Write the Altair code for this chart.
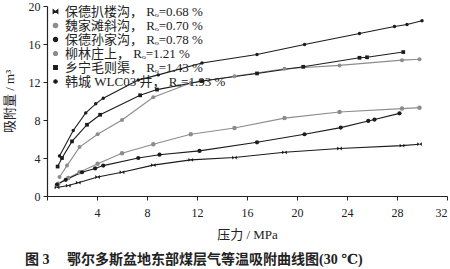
import altair as alt
import pandas as pd

# ---- data ----
names = [
    "保德扒楼沟，  Rₒ=0.68 %",
    "魏家滩斜沟，  Rₒ=0.70 %",
    "保德孙家沟，  Rₒ=0.78 %",
    "柳林庄上，  Rₒ=1.21 %",
    "乡宁毛则渠，  Rₒ=1.43 %",
    "韩城 WLC03 井，  Rₒ=1.93 %",
]

s1_x = [0.8, 1.7, 2.5, 4.05, 6.0, 8.5, 11.5, 15.0, 19.0, 23.4, 28.4, 29.8]
s1_y = [0.9, 1.1, 1.4, 2.0, 2.5, 3.25, 3.8, 4.05, 4.6, 5.0, 5.3, 5.45]

s2_x = [0.9, 1.7, 2.6, 4.05, 6.0, 8.5, 11.5, 15.0, 19.0, 23.4, 28.4, 29.8]
s2_y = [1.3, 1.9, 2.5, 3.4, 4.5, 5.45, 6.5, 7.15, 8.2, 8.85, 9.2, 9.3]

s3_x = [0.8, 1.5, 2.8, 3.85, 4.5, 7.3, 9.0, 12.2, 16.8, 20.6, 23.5, 25.7, 26.2, 28.2]
s3_y = [1.2, 1.7, 2.5, 2.9, 3.2, 4.0, 4.35, 4.75, 5.65, 6.5, 7.2, 7.9, 8.05, 8.7]

s4_x = [1.0, 1.6, 2.6, 4.05, 6.0, 8.5, 11.5, 15.0, 19.0, 23.4, 28.4, 29.8]
s4_y = [2.0, 3.2, 5.15, 6.5, 8.0, 10.4, 11.9, 12.6, 13.4, 13.75, 14.3, 14.4]

s5_x = [0.85, 1.2, 2.0, 3.2, 4.25, 7.45, 8.8, 12.4, 16.8, 20.5, 25.0, 25.6, 28.5]
s5_y = [3.1, 4.0, 5.75, 7.5, 8.55, 10.6, 11.2, 12.1, 12.9, 13.6, 14.55, 14.6, 15.15]

s6_x = [1.0, 2.1, 3.1, 3.9, 4.5, 7.3, 8.9, 12.4, 16.8, 20.6, 25.0, 27.8, 28.8, 30.0]
s6_y = [4.2, 6.9, 8.75, 9.7, 10.3, 12.2, 12.75, 14.0, 14.9, 15.95, 17.1, 17.85, 18.05, 18.45]

x_ticks = [0, 4, 8, 12, 16, 20, 24, 28, 32]
y_ticks = [0, 4, 8, 12, 16, 20]

# ---- styling ----
BLACK = "#1c1c1c"
GRAY = "#8c8c8c"
colors = [BLACK, GRAY, BLACK, GRAY, BLACK, BLACK]
bowtie = "M-1,-0.8L1,0.8L1,-0.8L-1,0.8Z"
shapes = [bowtie, "circle", "circle", "circle", "square", "circle"]
sizes = [22, 12, 16, 12, 22, 16]
FONT = "Liberation Serif, DejaVu Serif, Noto Sans CJK SC"

rows = []
for name, xs, ys in zip(names, [s1_x, s2_x, s3_x, s4_x, s5_x, s6_x],
                        [s1_y, s2_y, s3_y, s4_y, s5_y, s6_y]):
    for xv, yv in zip(xs, ys):
        rows.append({"series": name, "p": xv, "v": yv})
df = pd.DataFrame(rows)

xenc = alt.X("p:Q", scale=alt.Scale(domain=[0, 32], nice=False, zero=True),
             axis=alt.Axis(values=x_ticks, tickCount=len(x_ticks), title="压力 / MPa", grid=False,
                           labelExpr="datum.value == 0 ? '' : datum.label",
                           labelOverlap=False,
                           tickSize=4, labelPadding=7, titlePadding=10))
yenc = alt.Y("v:Q", scale=alt.Scale(domain=[0, 20], nice=False, zero=True),
             axis=alt.Axis(values=y_ticks, tickCount=len(y_ticks), title="吸附量 / m³", grid=False,
                           labelOverlap=False, labelBound=False,
                           tickSize=4, labelPadding=3, titlePadding=12))

legend_symbol = "M-1,0H1M-0.16,-0.16H0.16V0.16H-0.16Z"

lines = alt.Chart(df).mark_line(strokeWidth=1.1).encode(
    x=xenc,
    y=yenc,
    color=alt.Color("series:N", sort=names,
                    scale=alt.Scale(domain=names, range=colors),
                    legend=alt.Legend(
                        title=None, orient="none", legendX=2, legendY=-1,
                        symbolType=legend_symbol, symbolSize=190,
                        symbolStrokeWidth=1.1, symbolFillColor="#333",
                        labelFontSize=13,
                        labelFont=FONT, labelColor="#222", labelLimit=300,
                        rowPadding=0, labelOffset=3, symbolOffset=0,
                        padding=0)),
)

points = alt.Chart(df).mark_point(filled=True, opacity=1).encode(
    x=xenc,
    y=yenc,
    fill=alt.Fill("series:N", scale=alt.Scale(domain=names, range=colors), legend=None),
    shape=alt.Shape("series:N", scale=alt.Scale(domain=names, range=shapes), legend=None),
    size=alt.Size("series:N", scale=alt.Scale(domain=names, range=sizes), legend=None),
)

caption = "图 3\u00a0\u00a0\u00a0\u00a0\u00a0鄂尔多斯盆地东部煤层气等温吸附曲线图(30 ℃)"

chart = (
    alt.layer(lines, points)
    .properties(
        width=400, height=190,
        padding={"left": 47, "top": 6, "right": 3, "bottom": 73},
        autosize=alt.AutoSizeParams(type="none"),
        title=alt.TitleParams(
            caption,
            orient="bottom", anchor="start", frame="group", dx=-22, offset=12,
            font=FONT, fontSize=14, fontWeight="bold", color="#222"),
    )
    .configure_view(stroke=None)
    .configure_axis(domainColor="#222", tickColor="#222", labelColor="#222",
                    titleColor="#222", labelFont=FONT, titleFont=FONT,
                    labelFontSize=12, titleFontSize=13, titleFontWeight="normal",
                    domainWidth=1.2)
)

chart.save("out.html", embed_options={"renderer": "svg", "actions": False})
